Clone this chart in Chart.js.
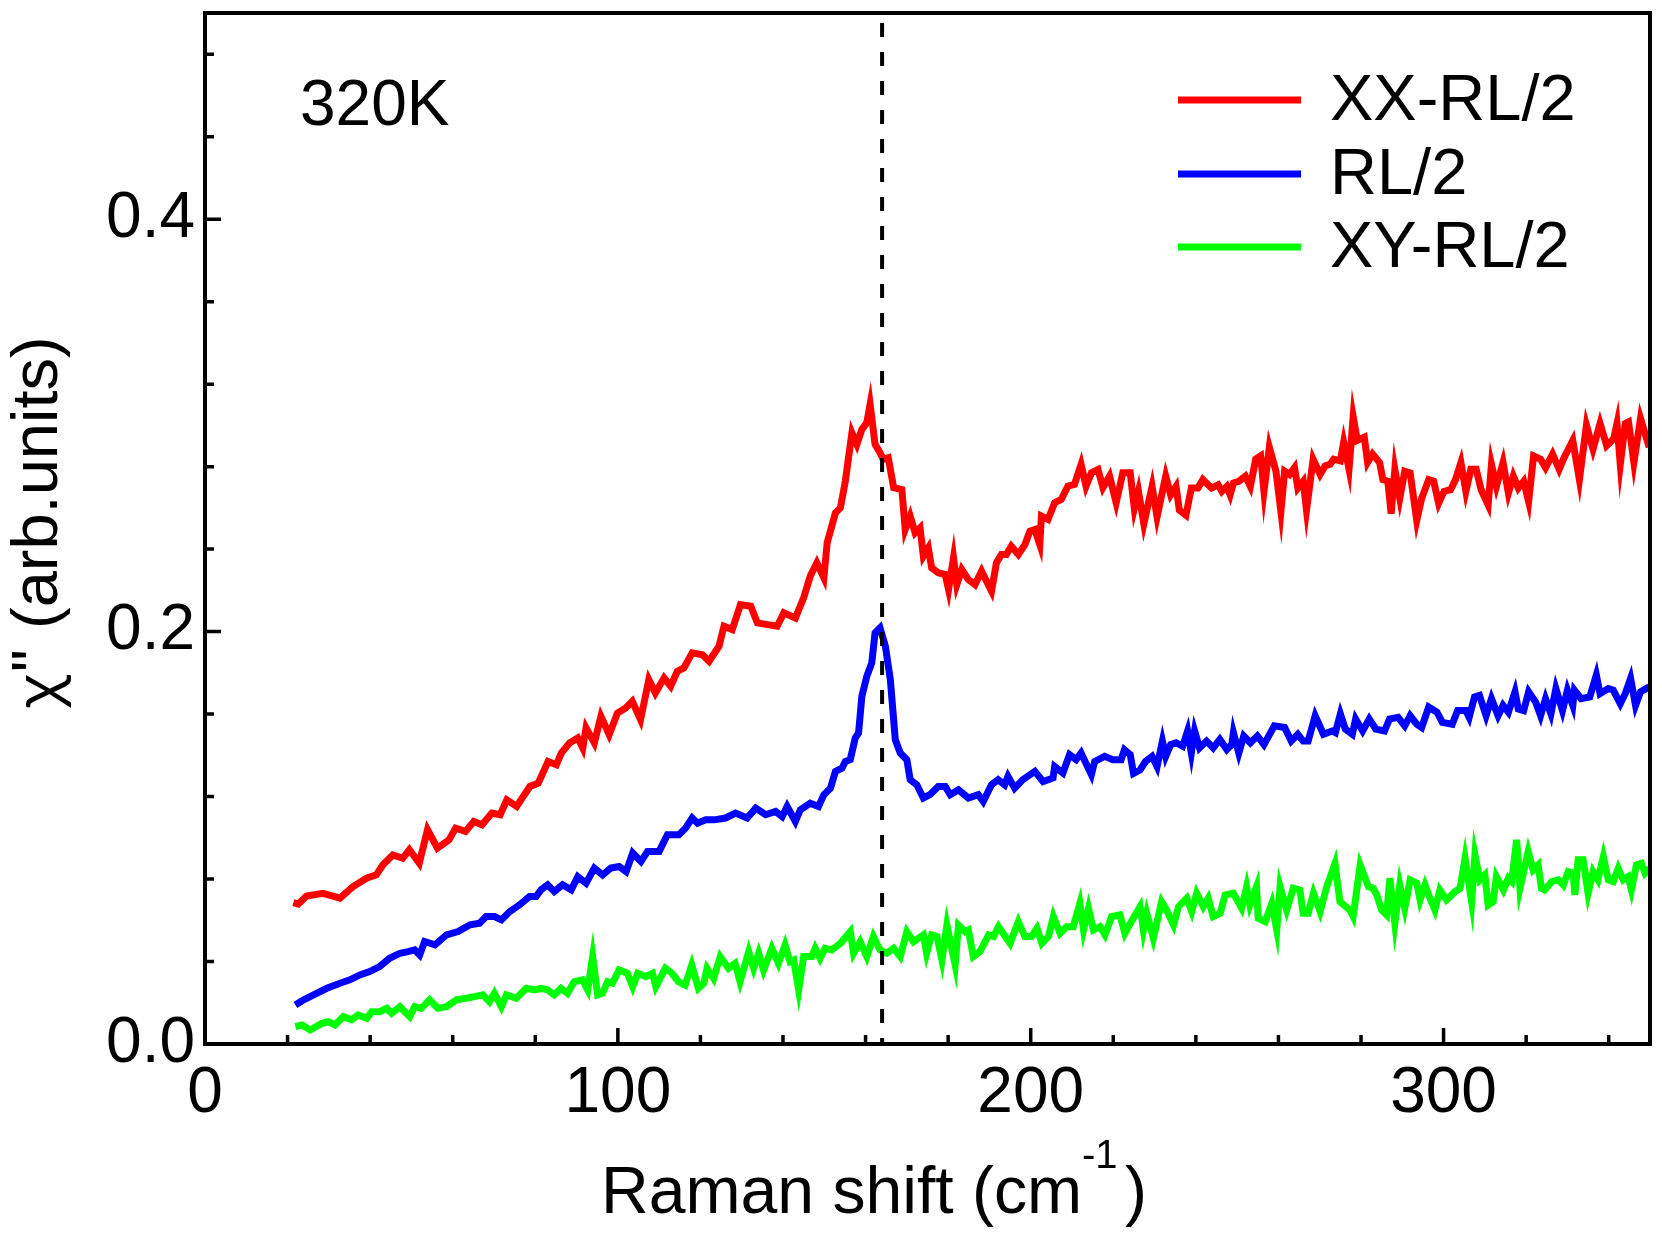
<!DOCTYPE html>
<html lang="en">
<head>
<meta charset="UTF-8">
<title>Raman shift 320K</title>
<script src="https://cdn.jsdelivr.net/npm/chart.js"></script>
<style>
  html, body { margin: 0; padding: 0; background: #fff; }
</style>
</head>
<body>
<canvas id="ramanChart" width="1662" height="1233"></canvas>
<script>
// values (Raman shift in cm-1, chi'' in arb. units)
const xxX = [21.4,22.6,24.6,28.6,32.7,35.9,39.1,41.5,43.1,45.5,47.9,49.5,51.9,53.9,56.3,59.1,60.7,63.1,65.1,67.1,69.5,71.5,73.1,75.5,77.1,78.7,80.7,83.1,85.1,86.3,88.3,90.3,91.5,92.3,94.3,95.9,97.9,99.9,101.9,103.5,105.5,107.5,109.1,
  111.2,112.8,114.4,116.0,118.0,120.5,122.1,124.5,125.7,127.7,129.7,132.2,133.8,136.2,138.6,140.2,143.0,145.0,146.6,148.2,149.9,150.7,152.7,153.9,155.1,156.7,157.9,159.1,160.3,161.1,162.3,163.5,164.3,165.5,166.8,168.8,169.6,170.8,172.0,173.2,174.0,175.2,176.0,177.6,179.3,180.1,181.3,182.1,183.3,184.9,186.5,188.1,189.3,190.5,191.7,192.9,194.1,195.3,197.0,198.6,199.8,201.0,202.2,202.6,204.2,205.8,207.4,209.0,210.6,212.2,213.4,214.7,216.3,217.5,219.1,220.7,222.3,
  224.1,225.1,226.1,227.4,229.4,230.6,232.7,233.9,235.2,236.0,237.6,238.9,240.5,241.7,243.8,245.4,246.3,247.5,248.3,249.1,250.4,252.0,253.2,254.5,255.7,256.5,257.8,259.4,260.6,261.5,262.7,263.9,264.7,266.0,266.8,268.4,270.1,271.3,272.5,273.4,275.0,275.8,277.1,278.1,279.1,280.8,281.6,282.8,284.5,285.3,286.5,287.3,288.2,289.4,290.6,291.9,293.5,294.7,296.4,297.6,298.8,300.1,301.7,302.9,304.2,305.4,306.6,307.9,309.1,310.8,311.6,312.8,314.4,315.7,316.9,318.1,319.4,320.6,321.8,323.5,324.7,326.4,328.0,329.2,331.3,332.9,334.6,336.2,337.9,339.5,341.2,342.0,342.8,344.0,344.8,346.1,347.7,349.8];
const xxY = [.0686,.0679,.0718,.0731,.0707,.0764,.0804,.0820,.0869,.0917,.0901,.0942,.0877,.1039,.0950,.0990,.1047,.1031,.1079,.1063,.1120,.1112,.1184,.1152,.1201,.1249,.1265,.1370,.1354,.1411,.1460,.1484,.1435,.1533,.1460,.1589,.1500,.1605,.1630,.1662,.1573,.1767,.1702,
  .1775,.1735,.1807,.1824,.1897,.1888,.1856,.1929,.2026,.2010,.2131,.2123,.2042,.2034,.2026,.2091,.2066,.2164,.2269,.2334,.2261,.2431,.2576,.2600,.2730,.2964,.2908,.2981,.3013,.3102,.2908,.2868,.2835,.2843,.2698,.2689,.2495,.2560,.2479,.2503,.2366,.2406,.2309,.2285,.2277,.2204,.2358,.2228,.2301,.2252,.2228,.2293,.2244,.2196,.2334,.2374,.2374,.2414,.2374,.2422,.2487,.2495,.2422,.2560,.2544,.2625,.2641,.2705,.2714,.2811,.2705,.2770,.2786,.2698,.2754,.2625,.2770,
  .2770,.2597,.2680,.2523,.2704,.2556,.2754,.2663,.2704,.2589,.2564,.2696,.2696,.2737,.2696,.2712,.2680,.2704,.2663,.2721,.2729,.2754,.2704,.2836,.2852,.2680,.2894,.2778,.2581,.2778,.2762,.2795,.2696,.2729,.2589,.2836,.2762,.2803,.2811,.2836,.2828,.2918,.2787,.3042,.2927,.2943,.2820,.2861,.2820,.2737,.2729,.2572,.2787,.2647,.2778,.2770,.2539,.2647,.2737,.2729,.2622,.2680,.2688,.2737,.2820,.2680,.2787,.2787,.2688,.2614,.2811,.2704,.2820,.2671,.2754,.2696,.2729,.2630,.2852,.2836,.2795,.2861,.2787,.2844,.2927,.2737,.3001,.2885,.3009,.2902,.2935,.3009,.2811,.3009,.3017,.2820,.3034,.2894];

const rlX = [21.9,23.9,26.3,29.5,32.7,35.1,37.5,39.9,42.3,44.7,47.2,49.2,50.8,52.0,53.2,55.7,58.5,61.3,64.2,66.5,68.1,70.1,71.8,73.8,76.2,78.6,80.2,81.4,83.0,84.6,86.6,88.7,90.3,92.3,94.3,96.3,98.3,100.3,102.0,103.6,105.6,107.2,110.0,112.0,114.8,
  116.4,118.0,119.3,121.3,123.3,126.1,128.5,131.3,133.4,135.8,138.2,139.8,141.0,143.0,144.2,146.6,148.6,149.9,151.5,152.7,154.3,155.1,156.3,157.5,158.3,159.1,160.3,161.5,162.3,163.5,164.8,166.0,167.2,168.4,170.0,170.8,172.4,174.0,175.6,177.6,179.3,180.5,182.5,184.9,187.3,188.5,190.5,192.1,193.7,194.5,196.1,198.1,201.0,203.0,205.4,205.8,207.8,209.4,211.0,212.2,214.7,215.5,217.9,219.9,221.9,222.7,
  224.1,224.9,226.5,227.8,229.4,230.6,231.9,232.7,233.9,235.2,236.8,238.0,238.9,239.7,240.9,242.6,244.2,245.8,247.5,248.7,249.1,250.4,251.6,253.2,254.9,256.5,259.0,261.5,263.1,264.7,266.0,267.2,268.9,270.9,273.0,273.8,275.0,276.2,277.9,278.7,280.4,282.0,283.6,285.7,286.9,289.0,290.6,291.9,293.5,294.7,296.4,298.4,299.7,302.1,303.4,305.4,306.2,307.5,308.7,310.3,311.6,313.2,314.4,315.7,317.3,318.1,319.4,320.6,322.3,323.5,324.7,326.0,327.2,328.8,330.0,331.3,331.7,333.3,335.4,337.0,337.9,339.9,341.1,342.8,344.0,345.3,346.5,347.7,349.8];
const rlY = [.0189,.0214,.0238,.0270,.0295,.0311,.0335,.0351,.0375,.0416,.0440,.0448,.0456,.0432,.0497,.0481,.0529,.0545,.0578,.0586,.0618,.0618,.0602,.0642,.0675,.0715,.0715,.0748,.0772,.0739,.0772,.0748,.0812,.0780,.0853,.0820,.0853,.0861,.0836,.0926,.0885,.0934,.0934,.1015,.1015,
  .1047,.1096,.1071,.1087,.1087,.1096,.1120,.1096,.1144,.1112,.1128,.1103,.1152,.1079,.1136,.1168,.1152,.1209,.1241,.1322,.1338,.1370,.1379,.1484,.1508,.1686,.1783,.1848,.1994,.2018,.1929,.1767,.1476,.1411,.1379,.1282,.1257,.1193,.1209,.1249,.1249,.1209,.1233,.1193,.1209,.1176,.1257,.1282,.1257,.1298,.1241,.1282,.1322,.1273,.1290,.1346,.1314,.1403,.1379,.1411,.1306,.1370,.1395,.1379,.1379,.1427,
  .1403,.1312,.1329,.1370,.1395,.1345,.1469,.1395,.1452,.1461,.1444,.1518,.1411,.1518,.1436,.1469,.1436,.1477,.1428,.1452,.1510,.1411,.1494,.1461,.1494,.1452,.1543,.1535,.1469,.1502,.1469,.1469,.1592,.1502,.1518,.1510,.1601,.1527,.1502,.1576,.1518,.1576,.1527,.1518,.1576,.1584,.1543,.1592,.1551,.1535,.1634,.1609,.1560,.1551,.1617,.1617,.1584,.1683,.1691,.1592,.1675,.1592,.1642,.1609,.1708,.1625,.1617,.1708,.1658,.1592,.1675,.1601,.1724,.1617,.1716,.1642,.1716,.1675,.1683,.1790,.1699,.1724,.1716,.1650,.1699,.1773,.1642,.1708,.1732];

const xyX = [21.9,23.5,25.5,28.3,29.9,31.5,33.5,35.5,37.1,39.2,40.4,42.4,44.0,45.2,47.2,49.6,50.8,52.4,54.4,56.4,58.5,60.9,63.3,65.3,67.3,68.9,70.1,71.8,73.0,75.4,77.8,79.8,81.4,83.0,84.6,86.2,87.8,89.4,91.4,92.7,93.9,95.1,96.3,97.5,98.7,100.3,102.3,103.6,104.8,106.8,108.4,109.2,
  111.5,113.1,114.7,116.3,117.9,119.5,120.8,121.6,123.2,124.8,126.8,128.4,129.6,131.7,132.9,134.1,135.3,137.3,138.9,140.5,141.7,142.6,143.8,145.0,147.0,147.8,149.0,150.2,151.8,153.9,156.3,157.1,158.7,160.3,161.9,163.5,165.1,166.8,168.4,170.0,171.6,174.0,174.8,176.0,177.3,178.5,179.7,181.7,182.5,184.1,184.9,186.1,187.7,189.8,191.0,192.2,195.0,197.0,198.6,200.2,201.5,202.7,204.3,205.5,207.1,208.7,210.3,211.9,212.8,214.0,215.2,216.8,218.0,219.6,221.6,222.8,224.1,226.5,
  227.3,228.1,229.7,231.7,232.9,234.6,235.8,237.8,239.0,240.2,241.8,243.0,244.2,245.9,247.1,249.1,251.1,252.3,253.1,254.7,255.1,256.8,258.4,259.6,260.4,262.0,263.6,265.2,266.0,267.2,268.5,270.1,271.7,273.7,274.9,277.3,278.1,279.8,281.8,283.0,283.8,285.0,286.2,287.0,288.2,289.4,290.6,291.9,293.5,294.3,295.5,296.7,297.9,299.1,300.7,302.8,304.0,305.2,306.8,307.6,308.8,310.0,310.8,312.0,312.8,314.5,315.7,316.5,317.7,318.5,320.5,321.7,322.9,323.7,324.5,326.2,327.8,329.0,330.2,331.4,331.8,332.6,333.8,335.0,336.2,337.4,338.7,339.9,341.1,342.3,343.5,344.7,345.5,346.7,347.9,348.8,350.0];
const xyY = [.0084,.0092,.0068,.0100,.0108,.0092,.0133,.0117,.0141,.0125,.0157,.0157,.0173,.0149,.0181,.0133,.0181,.0173,.0214,.0173,.0181,.0214,.0222,.0230,.0238,.0205,.0246,.0181,.0238,.0222,.0270,.0262,.0270,.0262,.0238,.0270,.0246,.0302,.0311,.0262,.0424,.0238,.0246,.0302,.0295,.0359,.0343,.0278,.0343,.0327,.0343,.0278,
  .0367,.0343,.0302,.0286,.0383,.0270,.0294,.0367,.0318,.0424,.0367,.0391,.0302,.0448,.0367,.0440,.0359,.0464,.0391,.0480,.0399,.0407,.0262,.0424,.0424,.0464,.0415,.0464,.0456,.0488,.0545,.0440,.0496,.0424,.0521,.0456,.0440,.0464,.0424,.0545,.0496,.0529,.0440,.0529,.0521,.0407,.0577,.0383,.0577,.0545,.0553,.0424,.0448,.0529,.0521,.0569,.0488,.0593,.0521,.0521,.0561,.0488,.0521,.0618,.0537,.0569,.0569,.0682,.0553,.0658,.0553,.0569,.0529,.0618,.0626,.0537,.0585,.0666,
  .0553,.0634,.0513,.0690,.0650,.0577,.0666,.0707,.0642,.0731,.0666,.0707,.0618,.0634,.0723,.0731,.0658,.0763,.0674,.0763,.0610,.0593,.0682,.0553,.0763,.0650,.0755,.0747,.0634,.0634,.0731,.0642,.0763,.0876,.0690,.0650,.0618,.0868,.0763,.0755,.0723,.0650,.0626,.0804,.0585,.0771,.0658,.0796,.0780,.0699,.0771,.0707,.0650,.0747,.0699,.0739,.0755,.0901,.0690,.0917,.0796,.0820,.0674,.0690,.0812,.0747,.0804,.0788,.0990,.0755,.0933,.0844,.0868,.0755,.0747,.0788,.0796,.0771,.0836,.0828,.0723,.0893,.0893,.0731,.0836,.0796,.0909,.0796,.0788,.0852,.0796,.0812,.0747,.0868,.0876,.0828,.0852];

const seriesNames = ['XX-RL/2', 'RL/2', 'XY-RL/2'];
const seriesColors = ['#ff0000', '#0000ff', '#00ff00'];
const xTicks = [0, 100, 200, 300];
const yTicks = [0, 0.2, 0.4];
const markerX = 164;       // dashed line position (cm-1)
const tempLabel = '320K';

const FONT = '"Liberation Sans", Arial, sans-serif';

function toPoints(xs, ys) {
  return xs.map((v, i) => ({ x: v, y: ys[i] }));
}

// draws text so that its ink starts exactly at x0 on baseline y0
function inkText(ctx, str, x0, y0) {
  const m = ctx.measureText(str);
  ctx.fillText(str, x0 + m.actualBoundingBoxLeft, y0 || 0);
}

// scales a font so that str has the given ink width
function fitFont(ctx, str, base, inkWidth, family) {
  ctx.font = base + 'px ' + family;
  const m = ctx.measureText(str);
  const w = m.actualBoundingBoxLeft + m.actualBoundingBoxRight;
  ctx.font = (base * inkWidth / w).toFixed(1) + 'px ' + family;
}

// frame, inward ticks, dashed marker, legend and axis titles
const decorPlugin = {
  id: 'decor',
  afterDatasetsDraw(chart) {
    const { ctx, chartArea: a, scales: { x, y } } = chart;
    ctx.save();
    ctx.strokeStyle = '#000';
    ctx.fillStyle = '#000';

    // dashed marker
    const mx = x.getPixelForValue(markerX);
    ctx.lineWidth = 4;
    ctx.setLineDash([14, 15]);
    ctx.beginPath();
    ctx.moveTo(mx, a.top + 10);
    ctx.lineTo(mx, a.bottom);
    ctx.stroke();
    ctx.setLineDash([]);

    // ticks pointing inside
    ctx.lineWidth = 3.5;
    ctx.beginPath();
    for (let v = 20; v < 350; v += 20) {
      const px = x.getPixelForValue(v);
      const len = v % 100 === 0 ? 16 : 9;
      ctx.moveTo(px, a.bottom);
      ctx.lineTo(px, a.bottom - len);
    }
    for (let i = 1; i <= 12; i++) {
      const py = y.getPixelForValue(i * 0.04);
      const len = i % 5 === 0 ? 16 : 9;
      ctx.moveTo(a.left, py);
      ctx.lineTo(a.left + len, py);
    }
    ctx.stroke();

    // frame
    ctx.lineWidth = 4;
    ctx.strokeRect(a.left, a.top, a.right - a.left, a.bottom - a.top);

    // temperature label
    ctx.font = '64px ' + FONT;
    ctx.textAlign = 'left';
    ctx.textBaseline = 'alphabetic';
    ctx.fillText(tempLabel, 300, 125);

    // legend
    const rows = [100, 174, 247];
    chart.data.datasets.forEach((ds, i) => {
      ctx.strokeStyle = ds.borderColor;
      ctx.lineWidth = 7;
      ctx.beginPath();
      ctx.moveTo(1178, rows[i]);
      ctx.lineTo(1301, rows[i]);
      ctx.stroke();
      ctx.font = '65px ' + FONT;
      ctx.fillText(ds.label, 1330, rows[i] + 20);
    });

    // x axis title with superscript
    ctx.fillStyle = '#000';
    const main = 'Raman shift (cm';
    fitFont(ctx, main, 66, 472, FONT);
    inkText(ctx, main, 606, 1213);
    ctx.font = '40px ' + FONT;
    inkText(ctx, '-1', 1083, 1168);
    ctx.font = '66px ' + FONT;
    inkText(ctx, ')', 1125, 1213);

    // y axis title, rotated, ink placed along the axis
    ctx.save();
    ctx.translate(57, 708);
    ctx.rotate(-Math.PI / 2);
    ctx.font = '58px "Noto Sans", "DejaVu Sans", sans-serif';
    inkText(ctx, 'χ', 0);
    ctx.font = '64px ' + FONT;
    inkText(ctx, '"', 38);
    fitFont(ctx, '(arb.units)', 64, 286, FONT);
    inkText(ctx, '(arb.units)', 83);
    ctx.restore();

    ctx.restore();
  }
};

const ctx = document.getElementById('ramanChart').getContext('2d');
const ramanChart = new Chart(ctx, {
  type: 'line',
  data: {
    datasets: [
      { label: seriesNames[0], data: toPoints(xxX, xxY), borderColor: seriesColors[0] },
      { label: seriesNames[1], data: toPoints(rlX, rlY), borderColor: seriesColors[1] },
      { label: seriesNames[2], data: toPoints(xyX, xyY), borderColor: seriesColors[2] }
    ]
  },
  options: {
    responsive: false,
    animation: false,
    devicePixelRatio: 1,
    parsing: false,
    datasets: {
      line: { borderWidth: 7, pointRadius: 0, tension: 0, fill: false, borderJoinStyle: 'miter' }
    },
    layout: { padding: { left: 0, right: 12, top: 13, bottom: 0 } },
    plugins: {
      legend: { display: false },
      tooltip: { enabled: false }
    },
    scales: {
      x: {
        type: 'linear',
        min: 0,
        max: 350,
        grid: { display: false, drawTicks: false },
        border: { display: false },
        afterBuildTicks: s => { s.ticks = xTicks.map(v => ({ value: v })); },
        afterFit: s => {
          s.height = 189;
          s.paddingLeft = 0; s.paddingRight = 0;
        },
        ticks: {
          color: '#000',
          font: { family: FONT, size: 64 },
          padding: 12,
          maxRotation: 0,
          autoSkip: false,
          callback: v => String(v)
        }
      },
      y: {
        type: 'linear',
        min: 0,
        max: 0.5,
        grid: { display: false, drawTicks: false },
        border: { display: false },
        afterBuildTicks: s => { s.ticks = yTicks.map(v => ({ value: v })); },
        afterFit: s => {
          s.width = 205;
          s.paddingTop = 0; s.paddingBottom = 0;
        },
        ticks: {
          color: '#000',
          font: { family: FONT, size: 64 },
          padding: 10,
          autoSkip: false,
          callback: v => v.toFixed(1)
        }
      }
    }
  },
  plugins: [decorPlugin]
});
</script>
</body>
</html>
